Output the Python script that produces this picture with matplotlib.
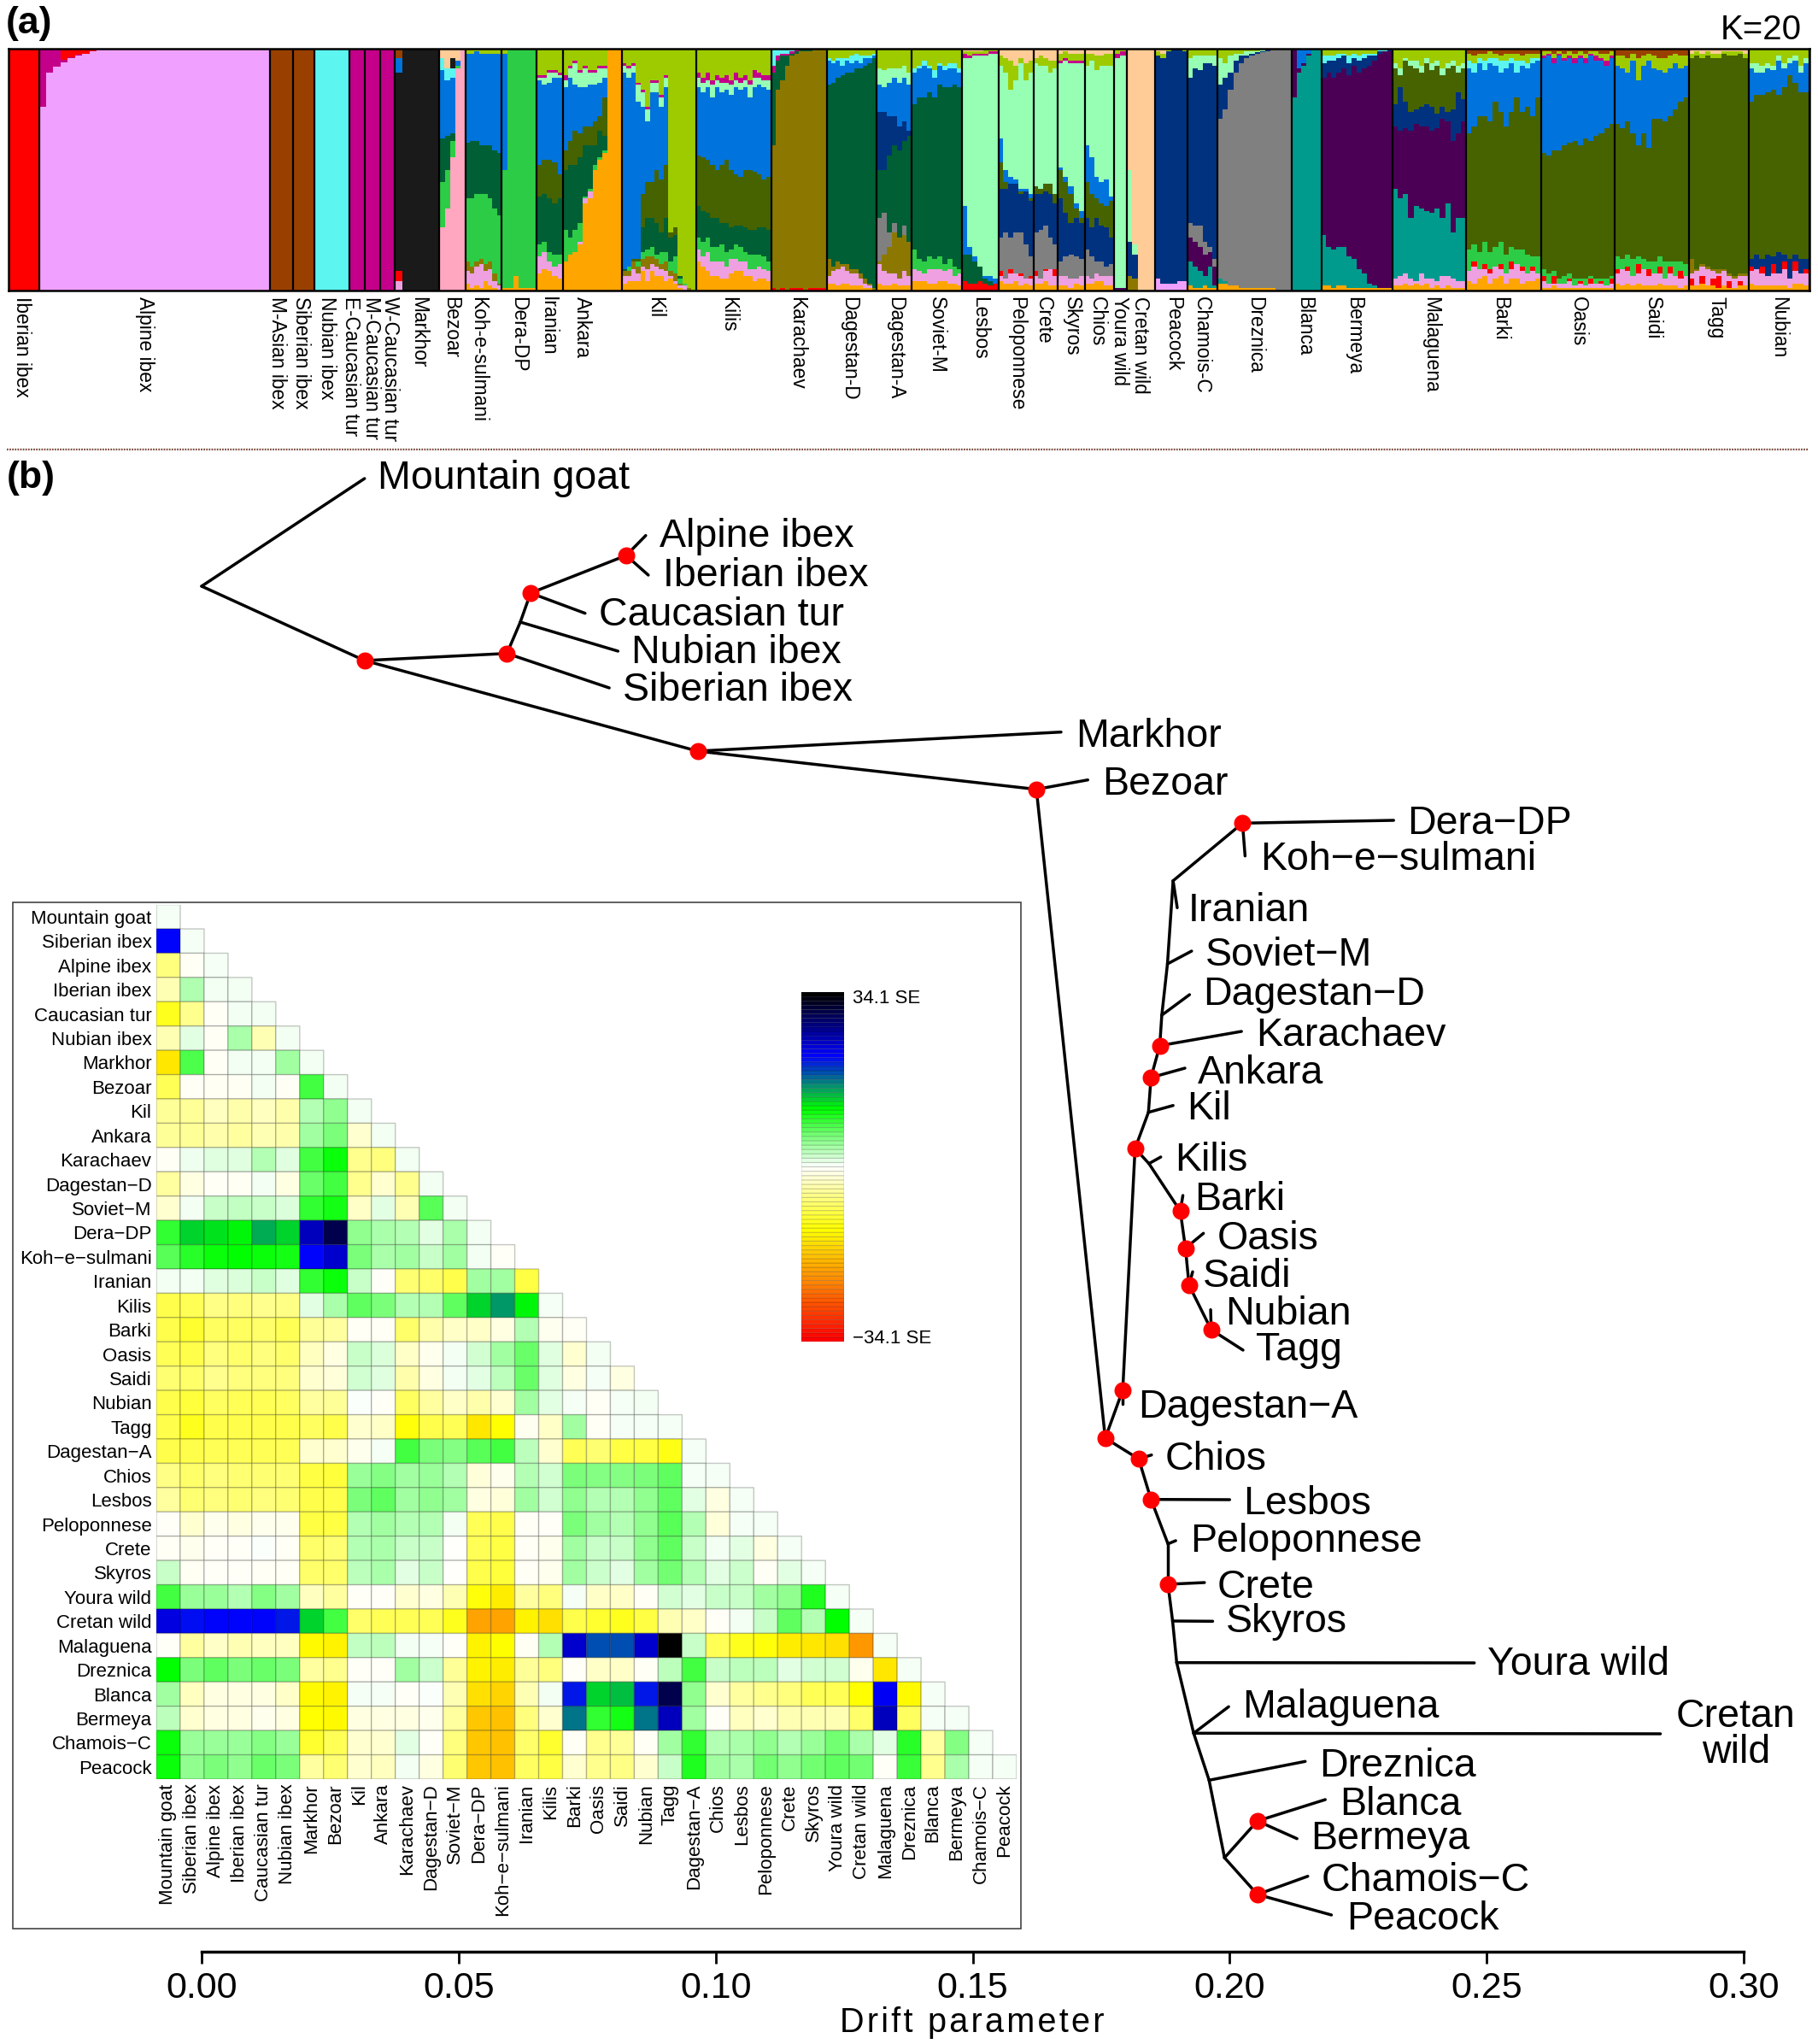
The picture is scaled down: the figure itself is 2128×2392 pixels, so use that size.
import numpy as np
import matplotlib
matplotlib.use("Agg")
import matplotlib.pyplot as plt
from matplotlib.colors import LinearSegmentedColormap, Normalize
from matplotlib.patches import Rectangle
from matplotlib.lines import Line2D

plt.rcParams['font.family'] = ['Liberation Sans', 'DejaVu Sans']
W, H = 2128, 2392
fig = plt.figure(figsize=(W/100, H/100), dpi=100, facecolor='white')

def ax_px(l, t, r, b):
    return fig.add_axes([l/W, 1-b/H, (r-l)/W, (b-t)/H])

# ------------------------- panel (a): ancestry proportions ------------------
palette = dict(red='#ff0000', lilac='#f0a0ff', brown='#994000', cyan='#5cf5f0', magenta='#c4008a',
               black='#1a1a1a', rose='#ffa6c0', pink='#eea0e0', blue='#0073dc', dkgreen='#005f34', green='#2dcc46',
               lime='#9dcb00', orange='#ffa500', olive='#466300', mustard='#8c7800', mint='#96ffb4',
               peach='#ffcb96', navy='#003280', gray='#808080', teal='#009b8c', purple='#4b0055')

group_names = ['Iberian ibex', 'Alpine ibex', 'M-Asian ibex', 'Siberian ibex', 'Nubian ibex', 'E-Caucasian tur',
               'M-Caucasian tur', 'W-Caucasian tur', 'Markhor', 'Bezoar', 'Koh-e-sulmani', 'Dera-DP',
               'Iranian', 'Ankara', 'Kil', 'Kilis', 'Karachaev', 'Dagestan-D', 'Dagestan-A', 'Soviet-M',
               'Lesbos', 'Peloponnese', 'Crete', 'Skyros', 'Chios', 'Youra wild', 'Cretan wild', 'Peacock',
               'Chamois-C', 'Dreznica', 'Blanca', 'Bermeya', 'Malaguena', 'Barki', 'Oasis', 'Saidi', 'Tagg', 'Nubian']
group_edges = [10.2, 45.5, 315.5, 342.7, 367.8, 409.2, 426.8, 444.5, 462.1, 514.4, 544.9, 587, 627.7, 658.9,
               728.1, 814.9, 902.5, 967.6, 1026, 1067.4, 1126.4, 1168.5, 1209.9, 1237.7, 1269.6, 1303.5, 1318.5,
               1351.7, 1390.4, 1425, 1511.9, 1546.5, 1629.9, 1716.1, 1803.6, 1889.8, 1976.7, 2046.6, 2117.8]
label_x = [25, 170, 324, 353, 383, 410.5, 434, 456, 490, 528, 560, 607, 641, 681, 767, 853, 933, 994, 1048,
           1096.6, 1146.8, 1189.5, 1221.4, 1254, 1284.5, 1310, 1334, 1372.7, 1406.7, 1469, 1526.8, 1585, 1674.7,
           1756, 1847.7, 1934.6, 2009, 2082]

# each layer: colour, upper boundary (percent) of that colour for each sampled individual; 0 = absent
iberian = [('red', [100])]
alpine = [('lilac', [76, 90, 92.5, 94.5, 96, 97, 98, 99, 99.5] + [100]*23),
          ('magenta', [100, 100, 100, 95.5, 96.5, 97.5, 98, 99, 99.5] + [0]*23),
          ('red', [0, 0, 0, 100, 100, 100, 100, 100, 100] + [0]*23)]
m_asian = [('brown', [100])]
siberian = [('brown', [100])]
nubian_ibex = [('cyan', [100])]
e_cauc = [('magenta', [100])]
m_cauc = [('magenta', [100])]
w_cauc = [('magenta', [100])]
markhor = [('pink', [4, 0, 0, 0, 0, 0]), ('red', [8, 0, 0, 0, 0, 0]), ('black', [90, 100, 100, 100, 100, 100]),
           ('blue', [96, 0, 0, 0, 0, 0]), ('brown', [100, 0, 0, 0, 0, 0])]
bezoar = [('rose', [26, 34, 55, 92, 100]), ('green', [45, 50, 62, 93, 0]), ('dkgreen', [63, 64, 65, 0, 0]),
          ('blue', [91, 87, 88, 95, 0]), ('cyan', [96, 92, 92, 0, 0]), ('black', [0, 0, 96, 0, 0]),
          ('peach', [100, 100, 100, 100, 0])]
koh = [('orange', [3, 1, 2, 1, 4, 2, 1, 0]), ('pink', [8, 7, 10, 11, 8, 9, 4, 2]),
       ('mustard', [12, 10, 12, 13, 11, 12, 7, 3]), ('green', [38, 38, 40, 40, 40, 38, 34, 31]),
       ('dkgreen', [61, 62, 62, 60, 60, 60, 58, 57]), ('blue', [98, 98, 99, 98, 98, 98, 98, 98]),
       ('lime', [100, 100, 100, 100, 100, 100, 100, 100])]
dera = [('orange', [1, 1, 6, 1, 1, 1]), ('green', [50, 100, 100, 100, 100, 100]), ('blue', [98, 0, 0, 0, 0, 0]),
        ('lime', [100, 0, 0, 0, 0, 0])]
iranian = [('orange', [7, 9, 8, 6, 5]), ('pink', [14, 16, 12, 10, 11]), ('green', [19, 20, 16, 15, 15]),
           ('dkgreen', [39, 40, 38, 36, 38]), ('olive', [52, 54, 54, 53, 48]), ('blue', [87, 85, 86, 88, 88]),
           ('mint', [88, 88, 90, 90, 89]), ('magenta', [89, 89, 91, 91, 90]), ('lime', [100, 100, 100, 100, 100])]
ankara = [('orange', [12, 15, 16, 19, 36, 38, 50, 54, 57, 100, 100, 100]), ('pink', [0, 0, 0, 20, 38, 41, 0, 0, 0, 0, 0, 0]),
          ('green', [25, 22, 25, 28, 39, 42, 52, 55, 58, 0, 0, 0]), ('dkgreen', [50, 52, 52, 55, 60, 60, 60, 66, 64, 0, 0, 0]),
          ('olive', [58, 62, 66, 65, 68, 68, 70, 72, 80, 0, 0, 0]), ('blue', [84, 88, 85, 84, 84, 85, 85, 86, 88, 0, 0, 0]),
          ('mint', [87, 92, 94, 90, 92, 90, 90, 92, 92, 0, 0, 0]), ('magenta', [89, 93, 95, 91, 93, 91, 91, 93, 93, 0, 0, 0]),
          ('lime', [100, 100, 100, 100, 100, 100, 100, 100, 100, 0, 0, 0])]
kil = [('orange', [3, 4, 4, 4, 8, 4, 8, 6, 6, 4, 5, 3, 1, 0, 0, 0]), ('pink', [6, 6, 9, 7, 10, 9, 11, 10, 9, 8, 6, 4, 2, 2, 0, 0]),
       ('mustard', [8, 8, 12, 10, 13, 14, 14, 13, 11, 12, 8, 7, 3, 2, 1, 0]), ('green', [8, 10, 12, 12, 16, 17, 18, 15, 16, 16, 12, 14, 5, 3, 1, 0]),
       ('dkgreen', [9, 10, 12, 12, 26, 30, 30, 28, 24, 30, 22, 23, 6, 3, 1, 0]), ('olive', [9, 10, 13, 13, 40, 45, 45, 50, 46, 52, 24, 26, 6, 3, 1, 0]),
       ('blue', [90, 88, 90, 78, 76, 70, 82, 82, 76, 84, 24, 26, 6, 3, 1, 0]), ('mint', [93, 92, 93, 85, 82, 75, 86, 86, 80, 88, 0, 0, 0, 0, 0, 0]),
       ('magenta', [94, 93, 94, 86, 83, 76, 87, 87, 81, 89, 0, 0, 0, 0, 0, 0]), ('lime', [100]*16)]
kilis = [('orange', [12, 10, 8, 6, 6, 5, 5, 7, 8, 8, 6, 6, 4, 5, 5, 4]), ('pink', [17, 14, 16, 12, 12, 12, 10, 13, 13, 12, 12, 9, 9, 10, 9, 8]),
         ('green', [22, 20, 22, 18, 18, 19, 16, 17, 19, 18, 16, 15, 15, 15, 14, 12]), ('dkgreen', [35, 33, 32, 30, 30, 28, 28, 26, 27, 27, 26, 25, 25, 26, 26, 25]),
         ('olive', [56, 55, 54, 52, 50, 52, 54, 50, 48, 47, 50, 50, 49, 48, 46, 47]), ('blue', [84, 82, 84, 80, 84, 82, 83, 81, 84, 83, 84, 80, 84, 85, 84, 83]),
         ('mint', [88, 86, 87, 85, 87, 86, 86, 85, 87, 86, 87, 85, 88, 88, 87, 87]), ('magenta', [90, 88, 90, 87, 89, 88, 89, 87, 90, 88, 89, 87, 91, 90, 89, 89]),
         ('lime', [100]*16)]
karachaev = [('red', [1, 0, 1, 0, 1, 1, 1, 0, 1, 1, 1, 1]), ('mustard', [60, 83, 87, 93, 97, 98, 99, 99, 99, 100, 100, 100]),
             ('dkgreen', [90, 95, 97, 97, 98, 99, 100, 100, 100, 0, 0, 0]), ('magenta', [93, 97, 98, 98, 99, 100, 0, 0, 0, 0, 0, 0]),
             ('cyan', [100, 100, 100, 100, 100, 0, 0, 0, 0, 0, 0, 0])]
dagestan_d = [('orange', [3, 3, 2, 3, 3, 2, 2, 2, 1, 1, 0]), ('pink', [6, 8, 9, 10, 8, 7, 7, 5, 3, 2, 0]),
              ('mustard', [13, 10, 12, 11, 11, 9, 9, 7, 5, 3, 1]), ('dkgreen', [85, 86, 88, 89, 90, 90, 92, 92, 93, 94, 96]),
              ('blue', [95, 94, 95, 93, 95, 94, 95, 94, 96, 96, 97]), ('cyan', [96, 95, 96, 96, 96, 97, 98, 97, 97, 97, 98]),
              ('lime', [100]*11)]
dagestan_a = [('orange', [3, 2, 2, 3, 2, 2, 2]), ('pink', [11, 8, 7, 7, 5, 8, 6]), ('mustard', [12, 15, 18, 24, 22, 23, 20]),
              ('gray', [30, 32, 24, 28, 22, 27, 20]), ('dkgreen', [50, 50, 56, 60, 58, 62, 64]), ('navy', [74, 74, 72, 72, 68, 70, 66]),
              ('blue', [85, 84, 86, 88, 86, 88, 85]), ('mint', [92, 91, 92, 92, 92, 93, 90]), ('lime', [100]*7)]
soviet_m = [('orange', [4, 4, 4, 3, 3, 4, 4, 3, 3, 2]), ('pink', [9, 8, 7, 9, 9, 9, 8, 9, 6, 7]), ('green', [17, 13, 12, 14, 13, 14, 11, 13, 10, 9]),
            ('dkgreen', [77, 80, 80, 82, 80, 85, 84, 84, 85, 84]), ('blue', [90, 92, 93, 92, 88, 93, 91, 92, 92, 90]),
            ('cyan', [92, 93, 95, 93, 91, 94, 93, 94, 94, 92]), ('lime', [100]*10)]
lesbos = [('red', [4, 3, 3, 4, 3, 2, 3]), ('dkgreen', [15, 15, 12, 10, 5, 4, 3]), ('blue', [35, 18, 14, 10, 6, 6, 5]),
          ('mint', [96, 96, 97, 97, 97, 98, 98]), ('magenta', [98, 97, 98, 98, 98, 99, 99]), ('lime', [99, 99, 99, 99, 100, 100, 100]), ('peach', [100]*7)]
peloponnese = [('orange', [4, 3, 3, 4, 2, 3, 2]), ('pink', [6, 5, 7, 7, 6, 5, 5]), ('red', [8, 0, 9, 0, 7, 0, 6]), ('gray', [22, 24, 22, 24, 24, 19, 14]),
               ('navy', [42, 42, 44, 44, 40, 41, 37]), ('olive', [53, 45, 44, 44, 41, 41, 38]), ('blue', [63, 50, 47, 46, 42, 42, 40]),
               ('mint', [93, 90, 83, 87, 94, 87, 90]), ('lime', [97, 96, 95, 93, 96, 94, 95]), ('peach', [100]*7)]
crete = [('orange', [3, 3, 4, 2, 2]), ('pink', [6, 5, 8, 9, 6]), ('red', [8, 0, 9, 0, 9]), ('gray', [24, 25, 27, 22, 19]), ('navy', [40, 40, 41, 40, 36]),
         ('olive', [43, 42, 44, 44, 40]), ('mint', [94, 93, 93, 90, 92]), ('lime', [96, 97, 96, 95, 95]), ('peach', [100]*5)]
skyros = [('orange', [2, 2, 1, 3, 2]), ('pink', [6, 6, 5, 5, 6]), ('gray', [12, 14, 15, 14, 13]), ('navy', [38, 32, 28, 30, 28]), ('olive', [50, 45, 40, 34, 30]),
          ('blue', [51, 47, 43, 36, 33]), ('mint', [94, 95, 94, 94, 94]), ('magenta', [95, 96, 95, 95, 95]), ('lime', [98, 99, 98, 98, 98]), ('peach', [100]*5)]
chios = [('orange', [3, 3, 4, 4, 2, 2]), ('pink', [6, 5, 7, 6, 6, 6]), ('gray', [17, 14, 12, 12, 10, 11]), ('navy', [30, 26, 30, 27, 26, 22]),
         ('olive', [45, 40, 38, 36, 35, 37]), ('blue', [60, 55, 47, 45, 46, 39]), ('mint', [93, 95, 91, 93, 93, 93]), ('lime', [98, 98, 97, 97, 98, 98]), ('peach', [100]*6)]
youra = [('purple', [1, 1]), ('mint', [96, 97]), ('magenta', [98, 99]), ('lime', [100, 100])]
cretan = [('mustard', [6, 5, 0, 0, 0]), ('navy', [20, 15, 0, 0, 0]), ('mint', [50, 19, 0, 0, 0]), ('peach', [100]*5)]
peacock = [('lilac', [5, 3, 3, 3, 4, 4]), ('navy', [97, 96, 99, 100, 100, 99]), ('lime', [99, 98, 100, 0, 0, 100]), ('peach', [100, 100, 0, 0, 0, 0])]
chamois = [('orange', [2, 1, 1, 2, 1, 1]), ('teal', [12, 10, 8, 6, 10, 2]), ('purple', [22, 20, 18, 15, 16, 10]), ('gray', [28, 27, 27, 20, 18, 13]),
           ('navy', [88, 92, 91, 94, 94, 93]), ('mint', [96, 97, 97, 97, 97, 97]), ('lime', [100]*6)]
dreznica = [('orange', [3, 3, 2, 2, 1, 1, 1, 1, 1, 1, 1, 0, 0, 0]), ('teal', [5, 4, 2, 2, 1, 1, 1, 1, 1, 1, 1, 0, 0, 0]),
            ('gray', [71, 75, 83, 90, 94, 96, 97, 98, 98.5, 99, 100, 100, 100, 100]), ('navy', [85, 88, 90, 95, 97, 97, 98, 98.5, 99, 100, 0, 0, 0, 0]),
            ('mint', [96, 94, 97, 98, 98, 99, 99, 99, 99.5, 0, 0, 0, 0, 0]), ('lime', [100, 100, 100, 100, 100, 100, 100, 100, 100, 0, 0, 0, 0, 0])]
blanca = [('teal', [80, 90, 93, 97, 100, 100]), ('purple', [100, 92, 94, 98, 0, 0]), ('blue', [0, 100, 100, 100, 0, 0])]
bermeya = [('orange', [2, 2, 1, 2, 2, 1, 1, 1, 1, 1, 1, 1, 1, 1]), ('teal', [23, 18, 17, 18, 18, 14, 13, 9, 7, 3, 2, 1, 1, 1]),
           ('purple', [88, 90, 88, 90, 92, 89, 93, 90, 92, 93, 95, 98, 99, 99]), ('navy', [94, 95, 95, 96, 97, 94, 96, 95, 96, 97, 97, 99, 99, 100]),
           ('cyan', [97, 97, 97, 98, 98, 97, 98, 97, 98, 98, 98, 100, 100, 0]), ('lime', [100, 100, 100, 100, 100, 100, 100, 100, 100, 100, 100, 0, 0, 0])]
malaguena = [('orange', [2, 2, 3, 2, 3, 2, 3, 1, 2, 1, 2, 1, 1, 1]), ('pink', [5, 6, 7, 5, 4, 7, 5, 5, 4, 6, 6, 5, 4, 4]),
             ('teal', [42, 38, 40, 30, 35, 34, 33, 32, 34, 30, 36, 24, 30, 30]), ('purple', [68, 66, 67, 66, 69, 68, 68, 66, 67, 71, 70, 62, 65, 70]),
             ('navy', [77, 84, 78, 74, 75, 76, 77, 76, 73, 76, 74, 75, 82, 79]), ('olive', [92, 89, 95, 93, 92, 90, 94, 91, 93, 89, 92, 93, 90, 92]),
             ('mint', [94, 92, 96, 95, 95, 93, 96, 94, 95, 92, 94, 95, 93, 94]), ('lime', [100]*14)]
barki = [('orange', [4, 3, 5, 6, 3, 5, 6, 3, 5, 5, 3, 4, 4, 5]), ('pink', [8, 10, 9, 9, 7, 10, 9, 7, 9, 11, 8, 7, 8, 7]),
         ('red', [0, 12, 0, 11, 9, 0, 11, 0, 12, 0, 10, 0, 10, 0]), ('green', [17, 19, 16, 20, 16, 18, 20, 15, 18, 17, 17, 15, 14, 14]),
         ('olive', [65, 68, 72, 72, 70, 78, 74, 68, 74, 80, 74, 76, 72, 80]), ('blue', [92, 90, 94, 91, 94, 93, 90, 92, 94, 90, 93, 92, 94, 95]),
         ('cyan', [95, 94, 96, 95, 96, 96, 95, 95, 96, 95, 95, 94, 96, 96]), ('lime', [98, 97, 98, 98, 99, 98, 97, 98, 98, 98, 97, 98, 98, 98]), ('brown', [100]*14)]
oasis = [('orange', [1, 1, 2, 1, 1, 1, 1, 1, 1, 1, 1, 1, 1, 1]), ('pink', [4, 3, 3, 3, 3, 4, 2, 3, 2, 3, 3, 3, 2, 3]),
         ('red', [6, 0, 6, 0, 0, 5, 0, 4, 0, 5, 0, 4, 0, 5]), ('green', [9, 7, 8, 5, 6, 7, 5, 5, 5, 6, 5, 5, 5, 6]),
         ('olive', [57, 56, 58, 58, 60, 61, 62, 60, 63, 62, 64, 65, 67, 69]), ('blue', [96, 97, 94, 97, 95, 96, 94, 96, 94, 97, 95, 95, 93, 96]),
         ('magenta', [97, 98, 96, 98, 96, 97, 96, 97, 96, 98, 97, 96, 95, 97]), ('lime', [99, 99, 98, 99, 98, 99, 98, 99, 98, 99, 99, 98, 98, 99]), ('brown', [100]*14)]
saidi = [('orange', [3, 2, 3, 2, 3, 2, 2, 2, 3, 2, 2, 2, 1, 2]), ('pink', [7, 9, 8, 6, 7, 9, 6, 7, 7, 5, 7, 6, 5, 6]),
         ('red', [9, 0, 10, 0, 11, 0, 9, 0, 10, 0, 10, 0, 8, 0]), ('green', [14, 13, 15, 13, 14, 13, 12, 12, 14, 12, 12, 12, 12, 11]),
         ('olive', [69, 67, 70, 65, 60, 65, 59, 71, 71, 70, 72, 75, 78, 80]), ('blue', [93, 92, 90, 95, 87, 93, 95, 92, 91, 90, 92, 94, 92, 93]),
         ('lime', [97, 97, 96, 98, 96, 97, 98, 97, 96, 96, 97, 98, 97, 97]), ('brown', [100]*14)]
tagg = [('orange', [2, 2, 3, 2, 2, 1, 2, 1, 1, 2, 2]), ('red', [5, 0, 6, 0, 5, 6, 0, 4, 0, 4, 0]), ('pink', [7, 8, 10, 9, 8, 7, 8, 6, 5, 6, 6]),
        ('mustard', [13, 9, 11, 10, 9, 9, 9, 7, 6, 7, 7]), ('olive', [96, 97, 96, 97, 96, 96, 98, 97, 97, 98, 96]),
        ('lime', [98, 99, 98, 99, 98, 98, 99, 99, 99, 99, 98]), ('peach', [100]*11)]
nubian = [('orange', [3, 2, 2, 2, 2, 2, 2, 1, 3, 3, 2]), ('pink', [8, 9, 7, 6, 7, 7, 9, 5, 8, 7, 7]), ('red', [10, 0, 10, 0, 11, 0, 12, 0, 12, 0, 9]),
          ('navy', [13, 15, 13, 15, 14, 16, 15, 13, 15, 13, 13]), ('olive', [78, 81, 81, 82, 83, 81, 84, 89, 86, 82, 82]),
          ('blue', [92, 90, 90, 92, 91, 95, 92, 94, 95, 90, 94]), ('mint', [94, 94, 93, 94, 93, 97, 94, 96, 97, 93, 96]), ('lime', [100]*11)]
group_layers = [iberian, alpine, m_asian, siberian, nubian_ibex, e_cauc, m_cauc, w_cauc, markhor, bezoar, koh, dera,
                iranian, ankara, kil, kilis, karachaev, dagestan_d, dagestan_a, soviet_m, lesbos, peloponnese, crete,
                skyros, chios, youra, cretan, peacock, chamois, dreznica, blanca, bermeya, malaguena, barki, oasis,
                saidi, tagg, nubian]

ax_a = ax_px(group_edges[0], 57, group_edges[-1], 340)
for g, layers in enumerate(group_layers):
    n = len(layers[0][1])
    w = (group_edges[g+1]-group_edges[g])/n
    xs = group_edges[g] + w*(np.arange(n)+0.5)
    base = np.zeros(n)
    for col, upper in layers:
        upper = np.asarray(upper, float)
        h = np.clip(upper-base, 0, None)
        ax_a.bar(xs, h, bottom=base, width=w*1.02, color=palette[col], linewidth=0, antialiased=False)
        base = base+h
ax_a.vlines(group_edges, 0, 100, color='black', lw=1.6)
ax_a.set_xlim(group_edges[0], group_edges[-1])
ax_a.set_ylim(0, 100)
ax_a.set_xticks([]); ax_a.set_yticks([])
for s in ax_a.spines.values():
    s.set_linewidth(1.8)
for name, lx in zip(group_names, label_x):
    fig.text(lx/W, 1-347/H, name, rotation=270, ha='center', va='top', fontsize=16.4)
fig.text(7/W, 1-27/H, '(a)', fontsize=32, fontweight='bold', ha='left', va='center')
fig.text(2109/W, 1-35/H, 'K=20', fontsize=29, ha='right', va='center')
fig.text(8/W, 1-559/H, '(b)', fontsize=32, fontweight='bold', ha='left', va='center')
fig.add_artist(Line2D([8/W, 2116/W], [1-526/H]*2, color='#7a4a3a', lw=1.6, ls=(0, (0.8, 0.6))))

# ------------------------- panel (b): drift tree ----------------------------
node_names = ['root', 'MGt', 'A', 'B', 'C', 'D', 'ALPt', 'IBEt', 'CAUt', 'NUJ', 'NUIt', 'SIBt', 'E', 'MARt', 'F', 'BEZt',
              'G', 'H2', 'DAAt', 'M', 'KSJ', 'KSt', 'KLJ', 'KLt', 'L', 'ANKt', 'K', 'KARt', 'DDJ', 'DDt', 'SOJ', 'SOt',
              'J', 'IRAt', 'H', 'DERt', 'KOHt', 'N', 'BARt', 'O', 'OASt', 'S', 'SAIt', 'T', 'NUBt', 'TAGt', 'P', 'CHIt',
              'Q', 'LESt', 'PEJ', 'PEt', 'CRN', 'CRt', 'SKJ', 'SKt', 'YOJ', 'YOt', 'MAJ', 'MALt', 'CRWt', 'DRJ', 'DRt',
              'R', 'BB', 'BLAt', 'BERt', 'CP', 'CHAt', 'PEAt']
node_drift = [0.0, .0317, .0317, .0594, .0640, .0826, .0864, .0869, .0746, .0620, .0810, .0793, .0965, .1672, .1624, .1724,
              .1758, .1792, .1792, .1816, .1843, .1866, .1842, .1890, .1847, .1913, .1864, .2023, .1868, .1922, .1879, .1926,
              .1890, .1898, .2025, .2319, .2030, .1904, .1909, .1914, .1949, .1921, .1928, .1964, .1963, .2026, .1823, .1848,
              .1847, .2000, .1880, .1895, .1880, .1951, .1889, .1967, .1897, .2476, .1930, .1998, .2838, .1960, .2147,
              .1990, .2054, .2186, .2131, .2054, .2152, .2198]
node_layout = [686, 560, 773, 764.7, 694, 650, 626.7, 673, 717.7, 728, 762, 805, 879, 856.7, 923.7, 912.7,
               1683, 1626.7, 1643, 1344, 1361.7, 1354, 1301.7, 1293.7, 1261, 1250, 1223.7, 1207, 1188, 1164, 1128, 1113,
               1030.7, 1062.3, 963.3, 960, 1001.7, 1417.3, 1399, 1460.7, 1443.3, 1504, 1488.3, 1556, 1532.7, 1580, 1707.3, 1702.7,
               1754.7, 1755, 1806.7, 1803, 1854, 1852, 1897, 1897.3, 1945.7, 1946, 2028.3, 1997.3, 2029, 2083.3, 2061.3,
               2174, 2131, 2106, 2151.7, 2217, 2195.7, 2241]
edge_list = [('root', 'MGt'), ('root', 'A'), ('A', 'B'), ('B', 'NUJ'), ('NUJ', 'C'), ('C', 'D'), ('D', 'ALPt'), ('D', 'IBEt'),
             ('C', 'CAUt'), ('NUJ', 'NUIt'), ('B', 'SIBt'), ('A', 'E'), ('E', 'MARt'), ('E', 'F'), ('F', 'BEZt'), ('F', 'G'),
             ('G', 'H2'), ('H2', 'DAAt'), ('H2', 'M'), ('M', 'KLJ'), ('KLJ', 'KLt'), ('KLJ', 'L'), ('L', 'ANKt'), ('L', 'K'),
             ('K', 'KARt'), ('K', 'DDJ'), ('DDJ', 'DDt'), ('DDJ', 'SOJ'), ('SOJ', 'SOt'), ('SOJ', 'J'), ('J', 'IRAt'), ('J', 'H'),
             ('H', 'DERt'), ('H', 'KOHt'), ('M', 'KSJ'), ('KSJ', 'KSt'), ('KSJ', 'N'), ('N', 'BARt'), ('N', 'O'), ('O', 'OASt'),
             ('O', 'S'), ('S', 'SAIt'), ('S', 'T'), ('T', 'NUBt'), ('T', 'TAGt'), ('G', 'P'), ('P', 'CHIt'), ('P', 'Q'), ('Q', 'LESt'),
             ('Q', 'PEJ'), ('PEJ', 'PEt'), ('PEJ', 'CRN'), ('CRN', 'CRt'), ('CRN', 'SKJ'), ('SKJ', 'SKt'), ('SKJ', 'YOJ'), ('YOJ', 'YOt'),
             ('YOJ', 'MAJ'), ('MAJ', 'MALt'), ('MAJ', 'CRWt'), ('MAJ', 'DRJ'), ('DRJ', 'DRt'), ('DRJ', 'R'), ('R', 'BB'), ('BB', 'BLAt'),
             ('BB', 'BERt'), ('R', 'CP'), ('CP', 'CHAt'), ('CP', 'PEAt')]
support_nodes = ['A', 'B', 'C', 'D', 'E', 'F', 'H', 'K', 'L', 'M', 'N', 'O', 'S', 'T', 'H2', 'G', 'P', 'Q', 'CRN', 'BB', 'CP']
tip_labels = ['Mountain goat', 'Alpine ibex', 'Iberian ibex', 'Caucasian tur', 'Nubian ibex', 'Siberian ibex', 'Markhor', 'Bezoar',
              'Dera\u2212DP', 'Koh\u2212e\u2212sulmani', 'Iranian', 'Soviet\u2212M', 'Dagestan\u2212D', 'Karachaev', 'Ankara', 'Kil', 'Kilis',
              'Barki', 'Oasis', 'Saidi', 'Nubian', 'Tagg', 'Dagestan\u2212A', 'Chios', 'Lesbos', 'Peloponnese', 'Crete', 'Skyros',
              'Youra wild', 'Malaguena', 'Dreznica', 'Blanca', 'Bermeya', 'Chamois\u2212C', 'Peacock']
tip_label_drift = [.0343, .0891, .0898, .0773, .0836, .0819, .1700, .1752, .2345, .2059, .1920, .1953, .1948, .2051, .1938, .1916, .1893,
                   .1932, .1975, .1948, .1991, .2051, .1822, .1874, .2026, .1923, .1976, .1993, .2501, .2025, .2174, .2214, .2158, .2179, .2227]
tip_label_layout = [560.5, 627.5, 674.5, 719.5, 763.5, 807.5, 861.5, 918.5, 964.5, 1005.5, 1066.5, 1118.5, 1164.5, 1212.5, 1256.5, 1298.5, 1358.5,
                    1403.5, 1449.5, 1493.5, 1538.5, 1579.5, 1647, 1707.5, 1760.5, 1804.5, 1857.5, 1898.5, 1948.5, 1997.5, 2067, 2112.5, 2152.5, 2201, 2246]
drift_ticks = [0.00, 0.05, 0.10, 0.15, 0.20, 0.25, 0.30]

ax_b = ax_px(236, 530, 2041, 2284.3)
ax_b.patch.set_alpha(0)
ax_b.set_xlim(0, 0.30)
ax_b.set_ylim(2284.3, 530)
idx = {n: i for i, n in enumerate(node_names)}
for a, b in edge_list:
    ax_b.plot([node_drift[idx[a]], node_drift[idx[b]]], [node_layout[idx[a]], node_layout[idx[b]]],
              color='black', lw=2.5, solid_capstyle='round', clip_on=False, zorder=2)
ax_b.plot([node_drift[idx[n]] for n in support_nodes], [node_layout[idx[n]] for n in support_nodes], 'o',
          color='#ff0000', ms=14.4, mew=0, clip_on=False, zorder=3)
for t, x, y in zip(tip_labels, tip_label_drift, tip_label_layout):
    ax_b.text(x, y, t, fontsize=33.5, ha='left', va='center', clip_on=False)
ax_b.text(0.2985, 2030, 'Cretan\nwild', fontsize=33.5, ha='center', va='center', linespacing=0.95, clip_on=False)
for k in ['top', 'left', 'right']:
    ax_b.spines[k].set_visible(False)
ax_b.spines['bottom'].set_linewidth(2.5)
ax_b.set_yticks([])
ax_b.set_xticks(drift_ticks)
ax_b.set_xticklabels(['%.2f' % v for v in drift_ticks], fontsize=31)
ax_b.tick_params(axis='x', length=10, width=2, pad=6)
fig.text(1138/W, 1-2367/H, '\u200a'.join('Drift parameter'), fontsize=28.5, ha='center', va='center')

# ------------------------- inset: residual matrix ---------------------------
matrix_labels = ['Mountain goat', 'Siberian ibex', 'Alpine ibex', 'Iberian ibex', 'Caucasian tur', 'Nubian ibex', 'Markhor', 'Bezoar',
                 'Kil', 'Ankara', 'Karachaev', 'Dagestan\u2212D', 'Soviet\u2212M', 'Dera\u2212DP', 'Koh\u2212e\u2212sulmani', 'Iranian', 'Kilis',
                 'Barki', 'Oasis', 'Saidi', 'Nubian', 'Tagg', 'Dagestan\u2212A', 'Chios', 'Lesbos', 'Peloponnese', 'Crete', 'Skyros',
                 'Youra wild', 'Cretan wild', 'Malaguena', 'Dreznica', 'Blanca', 'Bermeya', 'Chamois\u2212C', 'Peacock']
# residuals (level scale: pure yellow -13.6, pure green 13.6, pure blue 27.2)
r00 = [0.5]
r01 = [27, 0.5]
r02 = [-7, -0.5, 0.5]
r03 = [-4, 4.2, 0.7, 0.7]
r04 = [-12, -6, -0.5, 0.7, 0.7]
r05 = [-4, 1.5, -0.5, 4.5, -4, 0.7]
r06 = [-15.5, 9.5, -0.5, 0.7, 0.7, 5, 0.7]
r07 = [-9, -0.5, -0.7, -0.7, 0.7, -0.5, 10, 0.7]
r08 = [-5.5, -5.5, -3.5, -4.5, -3.5, -4.5, 4, 6, 0.7]
r09 = [-5.5, -5.5, -4.5, -5, -4, -4.5, 5, 7, -2.5, 0.7]
r10 = [-0.5, 0.8, 1.7, 1.7, 4, 1.7, 10, 13, -6, -7, 0.7]
r11 = [-5, -1.5, -0.5, -0.7, 0.7, -1.5, 8, 10, -6, -2.5, -6, 0.7]
r12 = [-2.5, 0.7, 3, 3.2, 3, 2, 11, 12.5, -3, 1.5, -4, 9, 0.7]
r13 = [11, 16, 15, 14, 18, 16, 29, 32, 6, 4.5, 4, 1.5, 4.5, 0.7]
r14 = [9, 11.5, 13, 13.5, 13, 12.5, 27, 28.5, 7, 4.5, 5, 3, 5, 0.7, -0.4]
r15 = [0.7, 0.7, 1.7, 2, 3, 1.7, 11, 13, 3, -0.4, -7.5, -8, -9.5, 5, 5, -10]
r16 = [-9.5, -9, -6.5, -7, -6, -6.5, 1.5, 4.5, 8.5, 7, 4, 4, 8.5, 16, 19, 14, 0.5]
r17 = [-9.5, -11, -8.5, -8.5, -8, -9, -5.5, -5, -0.5, -0.5, -8, -4.5, -3, -3, -1.5, 4, -0.8, -0.5]
r18 = [-9, -9.5, -7, -8, -7, -8, -3.5, -1.5, 3, 2, -3, -1, 0.7, 2.5, 5, 8, 1.7, -2.5, 0.7]
r19 = [-7.5, -8, -6, -7, -7, -7, -2.5, -2, 2.5, 1.7, -4.5, -1.5, 0.7, 1.5, 3.5, 8, 1.7, -1.5, 0.5, -1.5]
r20 = [-9.5, -10.5, -8.5, -9, -9, -8.5, -5, -5.5, 0.3, -0.3, -8.5, -5, -3, -4.5, -2.5, 5, 1.5, 0.5, -0.5, 0.5, 0.7]
r21 = [-9.5, -12, -9.5, -9.5, -9.5, -9.5, -8.5, -9.5, -2.5, -3, -13, -9.5, -9, -15.5, -13.5, -0.8, -3, 5, -0.5, 0.5, 0.5, 0.5]
r22 = [-9.5, -9.5, -9, -9, -9, -9, -2.5, -2.5, -1, 0.5, 10, 7, 6.5, 9, 10, 3.5, -2.5, -9, -7.5, -10, -10, -12.5, 0.5]
r23 = [-6.5, -8, -7, -7.5, -7.5, -7.5, -10, -10.5, 5.5, 6.5, 5, 5.5, 4, -2, -1, 4, 2.5, 7, 6.5, 6.5, 7, 8.5, 0.5, 0.5]
r24 = [-5, -7.5, -7, -7.5, -7, -7.5, -9.5, -9.5, 7, 8.5, 5, 6, 5, -1.5, -2, 5, 2.5, 6, 4, 4, 6, 8.5, 1.5, -1.5, 0.5]
r25 = [-0.4, -2.5, -1, -1.5, -1, -1, -10, -10, 4, 5, 4, 4, 0.7, -9, -9.5, -0.5, -0.3, 7, 5, 4, 6, 9, 4, -2, 0.6, 0.6]
r26 = [-0.5, -1, -0.4, -0.4, 0.3, -0.5, -8, -7.5, 4, 4.5, 3, 3, -0.2, -9, -10, -0.5, -1, 5, 3, 3, 6, 8.5, 3, 0.7, 1.5, -1.5, 0.6]
r27 = [3, -0.7, -0.4, -0.4, -0.5, -0.5, -8, -8, 3.5, 4.5, 1.5, 3, -0.2, -9.5, -10.5, -0.5, -1, 5, 2.8, 1.5, 5, 7.5, 4, 1.5, 2.8, -0.5, 1.5, 0.6]
r28 = [10, 5.5, 5.5, 4, 6.5, 5, -3.5, -5, -0.3, -0.3, -2.5, -1.5, -4, -13, -15, -5, -7, 0.6, -3, -3, -0.5, 2.5, 1.5, 3, 3, 5, 6, 12, 0.6]
r29 = [28, 26.5, 27, 27, 27, 26, 16, 10, -8, -9, -9, -9, -12, -21, -21, -14.5, -16, -9.5, -11, -12, -10, -4, -3, -0.4, 0.7, 3, 8.5, 4, 13.5, 0.6]
r30 = [-0.3, -5, -3, -4, -3.5, -3.5, -14, -14.5, 3.2, 3.5, 0.7, 0.5, -0.4, -14.5, -13.7, -0.7, 4, 28.5, 23, 23, 28.5, 34.1, 3, -9, -12, -13, -15, -15.5, -16, -22, 0.5]
r31 = [13.5, 7, 8.5, 7, 8, 7, -5, -6, -0.3, -0.3, 5, 2.8, -5.5, -14.5, -15, -5.5, -7, -0.4, -3, -3, -0.5, 3.5, 10, 3, 3.5, 3.5, 1.5, 2.5, 2.5, -1, -15.5, 0.5]
r32 = [5, -3.5, -1.5, -1.5, -1.5, -3, -14, -14.5, 0.5, 0.5, -0.3, 0.3, -4, -16, -17, -4, 0.7, 26, 16, 17, 26, 32, 6, -2.5, -5, -6, -7, -9, -9, -13.5, 27.5, -14, 0.5]
r33 = [3.5, -2.5, -1.5, -1.5, -1, -1.5, -13.5, -14, -1.5, -1.5, -1.5, -1, -5, -18, -18.5, -7, -2.5, 21, 11, 12.5, 21, 29, 5, -0.3, -3.5, -2.5, -4, -4, -4, -8, 29, -8.5, 0.6, 0.6]
r34 = [13, 5.5, 5.5, 5.5, 6.5, 5.5, -11, -9, -2.5, -2.5, 1.5, -0.3, -7, -18, -18.5, -8, -11, -0.5, -6, -5.5, -0.5, 5, 11, 4, 4.5, 6, 4, 5.5, 7.5, 4.5, 1.5, 11.5, -5, 6.5, 0.6]
r35 = [13, 6, 7, 6, 8, 7, -5, -7.5, -2.5, -3.5, 0.7, -1.5, -7.5, -18, -18.5, -8.5, -10, -2.5, -6, -6.5, -2.5, 3, 12, 5, 4.5, 7.5, 6, 7.5, 8.5, 7.5, -0.4, 10.5, -6, 4.5, 0.6, 0.5]
residual_rows = [r00, r01, r02, r03, r04, r05, r06, r07, r08, r09, r10, r11, r12, r13, r14, r15, r16, r17, r18, r19, r20,
                 r21, r22, r23, r24, r25, r26, r27, r28, r29, r30, r31, r32, r33, r34, r35]
level_stops = [-34.1, -13.6, 0, 13.6, 27.2, 34.1]
bar_fractions = [0, 0.318, 0.5, 0.668, 0.822, 1]
stop_colours = ['#ff0000', '#ffff00', '#ffffff', '#00ff00', '#0000ff', '#000000']
resid_cmap = LinearSegmentedColormap.from_list('resid', list(zip(bar_fractions, stop_colours)), N=512)
norm01 = Normalize(0, 1)

fig.add_artist(Rectangle((15/W, 1-2257/H), (1195-15)/W, (2257-1056)/H, transform=fig.transFigure,
                         fill=False, edgecolor='#444444', lw=1.2))
ax_m = ax_px(183, 1058.6, 1190, 2082)
nlab = len(matrix_labels)
C = np.full((nlab, nlab), np.nan)
for i, row in enumerate(residual_rows):
    C[i, :len(row)] = row
C_frac = np.ma.masked_invalid(np.interp(C, level_stops, bar_fractions))
C_frac = np.ma.masked_where(np.isnan(C), C_frac)
edges = np.arange(nlab+1)
ax_m.pcolor(edges, edges, C_frac, cmap=resid_cmap, norm=norm01, edgecolors=(0, 0, 0, 0.22), linewidth=1.0)
ax_m.set_xlim(0, nlab); ax_m.set_ylim(nlab, 0)
for s in ax_m.spines.values():
    s.set_visible(False)
ax_m.set_xticks(np.arange(nlab)+0.5)
ax_m.set_xticklabels(matrix_labels, rotation=90, fontsize=16)
ax_m.set_yticks(np.arange(nlab)+0.5)
ax_m.set_yticklabels(matrix_labels, fontsize=16)
ax_m.tick_params(length=0, pad=4)

ax_c = ax_px(938, 1161, 988, 1570)
band_levels = np.linspace(0, 1, 80).reshape(-1, 1)
ax_c.pcolor(np.array([0, 1]), np.arange(81), band_levels, cmap=resid_cmap, norm=norm01,
            edgecolors=(0, 0, 0, 0.15), linewidth=0.8)
ax_c.set_xlim(0, 1); ax_c.set_ylim(0, 80)
ax_c.set_xticks([]); ax_c.set_yticks([])
for s in ax_c.spines.values():
    s.set_visible(False)
fig.text(998/W, 1-1169/H, '34.1 SE', fontsize=16, ha='left', va='center')
fig.text(998/W, 1-1566/H, '\u221234.1 SE', fontsize=16, ha='left', va='center')

fig.savefig('out.png', dpi=100, facecolor='white')
